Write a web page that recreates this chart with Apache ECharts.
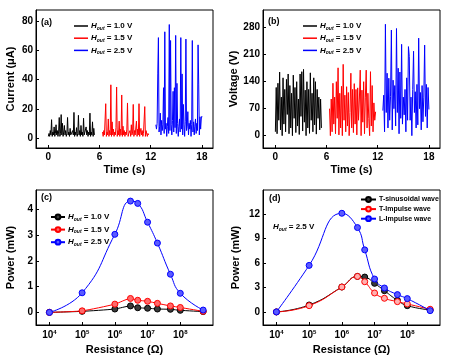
<!DOCTYPE html>
<html><head><meta charset="utf-8">
<script src="https://cdn.jsdelivr.net/npm/echarts@6/dist/echarts.min.js"></script>
<style>html,body{margin:0;padding:0;background:#fff}#c{width:454px;height:361px}</style>
</head><body><div id="c"></div>
<script>
// ---------- Panel (a): current vs time ----------
const timeTicks = [0, 6, 12, 18];
const currentTicks = [0, 20, 40, 60, 80];
const aStart = [0, 6.35, 12.6];
const aStep = 0.075;
const aCurrent10 = [1,3,1,5,2,12.5,1,4,2,7.5,1,3,9,2,5,1,4,14,1,3,16,2,10,1,4,8.5,2,5,1,3,14,2,4,1,6.5,2,3,1,5,2,17.5,1,4,2,7,1,3,15.5,2,5,1,8.5,2,4,1,13.5,2,3,1,7.5,2,5,1,4,2,17,1,4,2,11,1,6.5,2];
const aCurrent15 = [4,1,5,2,3,23.5,1,4,2,13,1,5,2,36.5,1,11,2,6,1,4,2,7,35,1,5,2,11.5,1,6,2,29.5,1,8,2,5,1,4,2,6,24,1,3,2,5,1,9,2,4,23,1,5,2,3,11.5,1,6,2,23.5,1,4,6.5,2,5,1,3,2,21.5,1,5,4.5,1,3,2];
const aCurrent25 = [9,6,10,44,69,4,8,17,2,12,5,9,34.5,3,73,6,10,1,8,14,3,78,5,67,9,2,12,32,4,34.5,7,70.5,3,37.5,10,1,8,13,4,69,6,44,2,23,9,1,11,68,5,8,18,2,10,6,12,1,9,67,4,11,2,8,13,3,10,5,64,37,2,14.5,6,13,15];

// ---------- Panel (b): voltage vs time ----------
const voltageTicks = [0, 70, 140, 210, 280];
const bStart = [0, 6.35, 12.6];
const bStep = 0.1;
const bVoltage10 = [10,125,5,136,40,165,15,100,0,150,30,120,10,146,55,160,5,130,20,110,0,157,45,125,8,140,25,95,3,160,50,166,12,172,35,118,0,140,20,120,6,163,40,110,10,150,28,140,4,120,45,100,15,95,20];
const bVoltage15 = [70,0,95,10,136,30,100,5,140,45,176,2,110,20,128,0,185,40,105,10,127,25,112,0,60,162,20,120,8,135,30,120,2,124,40,95,170,0,118,35,140,5,100,170,20,110,45,0,166,25,130,10,85,40,62];
const bVoltage25 = [65,105,10,289,60,162,20,149,40,102,274,15,144,70,130,25,278,60,175,5,165,45,237,30,100,54,120,10,150,40,231,205,40,100,0,120,219,60,114,20,133,28,253,70,112,15,130,36,100,235,50,133,20,125,68];

// ---------- Panels (c), (d): power vs resistance ----------
const resistance = [1e4, 1e5, 1e6, 3e6, 5e6, 1e7, 2e7, 5e7, 1e8, 5e8];
const resTicks = [1e4, 1e5, 1e6, 1e7, 1e8];
const powerTicksC = [0, 1, 2, 3, 4];
const powerTicksD = [0, 3, 6, 9, 12];
const cPower10 = [0, 0.04, 0.13, 0.25, 0.18, 0.16, 0.13, 0.12, 0.08, 0.03];
const cPower15 = [0, 0.06, 0.32, 0.54, 0.47, 0.43, 0.35, 0.25, 0.19, 0.04];
const cPower25 = [0, 0.76, 3.03, 4.32, 4.23, 3.50, 2.69, 1.48, 0.74, 0.09];
const dSinusoidal = [0, 0.85, 3.05, 4.35, 4.27, 3.50, 2.60, 1.42, 0.77, 0.24];
const dTImpulse = [0, 0.77, 3.05, 4.35, 3.70, 2.32, 1.67, 1.26, 0.98, 0.33];
const dLImpulse = [0, 5.70, 12.08, 10.33, 7.60, 4.03, 2.93, 2.12, 1.63, 0.16];

const hLabels = ['1.0 V', '1.5 V', '2.5 V'];
const dNames = ['T-sinusoidal wave', 'T-Impulse wave', 'L-Impulse wave'];
const colors = ['#000000', '#ff0000', '#0000ff'];
const markerFill = ['#3a3a3a', '#ff6a6a', '#5a5aff'];

// ---------- helpers ----------
const FONT = 'Arial, "Liberation Sans", sans-serif';
function timeSeries(start, step, values) {
  return values.map((v, i) => [start + i * step, v]);
}
function pairs(xs, ys) { return xs.map((x, i) => [x, ys[i]]); }

const legendRich = {
  i: {fontStyle: 'italic', fontWeight: 'bold', fontSize: 8, fontFamily: FONT, color: '#000'},
  s: {fontStyle: 'italic', fontWeight: 'bold', fontSize: 5, fontFamily: FONT, color: '#000', verticalAlign: 'bottom', padding: [5, 0, 0, 0]},
  t: {fontWeight: 'bold', fontSize: 8, fontFamily: FONT, color: '#000'}
};
const supRich = {
  b: {fontWeight: 'bold', fontSize: 10, fontFamily: FONT, color: '#000'},
  p: {fontWeight: 'bold', fontSize: 6, fontFamily: FONT, color: '#000', verticalAlign: 'top', padding: [0, 0, 6, 0]}
};

const grids = [
  {left: 36, top: 10, width: 177, height: 138},
  {left: 263, top: 10, width: 177, height: 138},
  {left: 36, top: 190, width: 177, height: 135},
  {left: 263, top: 190, width: 177, height: 135}
].map(g => Object.assign({show: true, borderColor: '#000', borderWidth: 1, backgroundColor: 'transparent'}, g));

function valueXAxis(gi, min, max, ticks, name) {
  return {
    gridIndex: gi, type: 'value', min: min, max: max,
    name: name, nameLocation: 'middle', nameGap: 16,
    nameTextStyle: {fontWeight: 'bold', fontSize: 11, fontFamily: FONT, color: '#000'},
    axisLine: {show: true, onZero: false, lineStyle: {color: '#000', width: 1}},
    axisTick: {show: true, inside: true, length: 3, customValues: ticks, lineStyle: {color: '#000'}},
    axisLabel: {customValues: ticks, margin: 4, fontWeight: 'bold', fontSize: 10, fontFamily: FONT, color: '#000'},
    splitLine: {show: false}
  };
}
function logXAxis(gi) {
  return {
    gridIndex: gi, type: 'log', logBase: 10, min: 3890, max: 1e9,
    name: 'Resistance (Ω)', nameLocation: 'middle', nameGap: 19,
    nameTextStyle: {fontWeight: 'bold', fontSize: 11, fontFamily: FONT, color: '#000'},
    axisLine: {show: true, onZero: false, lineStyle: {color: '#000', width: 1}},
    axisTick: {show: true, inside: true, length: 3, customValues: resTicks, lineStyle: {color: '#000'}},
    axisLabel: {
      customValues: resTicks, margin: 4,
      formatter: v => '{b|10}{p|' + Math.round(Math.log10(v)) + '}',
      rich: supRich
    },
    splitLine: {show: false}
  };
}
function yAxis(gi, min, max, ticks, name, gap) {
  return {
    gridIndex: gi, type: 'value', min: min, max: max,
    name: name, nameLocation: 'middle', nameGap: gap,
    nameTextStyle: {fontWeight: 'bold', fontSize: 11, fontFamily: FONT, color: '#000'},
    axisLine: {show: true, onZero: false, lineStyle: {color: '#000', width: 1}},
    axisTick: {show: true, inside: true, length: 3, customValues: ticks, lineStyle: {color: '#000'}},
    axisLabel: {customValues: ticks, margin: 3, fontWeight: 'bold', fontSize: 10, fontFamily: FONT, color: '#000'},
    splitLine: {show: false}
  };
}

const series = [];
const aVals = [aCurrent10, aCurrent15, aCurrent25];
const bVals = [bVoltage10, bVoltage15, bVoltage25];
const cVals = [cPower10, cPower15, cPower25];
const dVals = [dSinusoidal, dTImpulse, dLImpulse];
for (let k = 0; k < 3; k++) {
  series.push({name: 'a' + k, type: 'line', xAxisIndex: 0, yAxisIndex: 0, symbol: 'none',
    data: timeSeries(aStart[k], aStep, aVals[k]), lineStyle: {color: colors[k], width: 1}, itemStyle: {color: colors[k]}, animation: false});
  series.push({name: 'b' + k, type: 'line', xAxisIndex: 1, yAxisIndex: 1, symbol: 'none',
    data: timeSeries(bStart[k], bStep, bVals[k]), lineStyle: {color: colors[k], width: 1}, itemStyle: {color: colors[k]}, animation: false});
}
for (let k = 0; k < 3; k++) {
  series.push({name: 'c' + k, type: 'line', xAxisIndex: 2, yAxisIndex: 2, symbol: 'circle', symbolSize: 6,
    smooth: k === 2 ? 0.5 : 0.2, z: 2 + k,
    data: pairs(resistance, cVals[k]), lineStyle: {color: colors[k], width: 1},
    itemStyle: {color: markerFill[k], borderColor: colors[k], borderWidth: 1}, animation: false});
}
for (let k = 0; k < 3; k++) {
  series.push({name: 'd' + k, type: 'line', xAxisIndex: 3, yAxisIndex: 3, symbol: 'circle', symbolSize: 6,
    smooth: 0.5, z: 2 + k,
    data: pairs(resistance, dVals[k]), lineStyle: {color: colors[k], width: 1},
    itemStyle: {color: k === 1 ? '#ffb0b0' : markerFill[k], borderColor: colors[k], borderWidth: 1}, animation: false});
}

function hLegendLine(prefix, left, top, gap) {
  return {
    left: left, top: top, orient: 'vertical', icon: 'rect', itemWidth: 14, itemHeight: 1.5, itemGap: gap,
    data: [0, 1, 2].map(k => prefix + k), selectedMode: false,
    formatter: name => '{i|H}{s|out}{t| = ' + hLabels[+name.slice(1)] + '}',
    textStyle: {rich: legendRich, padding: [0, 0, 0, -2]}
  };
}
function hLegendMarker(prefix, left, top, gap) {
  return {
    left: left, top: top, orient: 'vertical', itemWidth: 14, itemHeight: 6, itemGap: gap,
    data: [0, 1, 2].map(k => prefix + k), selectedMode: false,
    formatter: name => '{i|H}{s|out}{t| = ' + hLabels[+name.slice(1)] + '}',
    textStyle: {rich: legendRich, padding: [0, 0, 0, -2]}
  };
}

const option = {
  animation: false,
  backgroundColor: '#fff',
  grid: grids,
  xAxis: [
    valueXAxis(0, -1.45, 19.3, timeTicks, 'Time (s)'),
    valueXAxis(1, -1.45, 19.3, timeTicks, 'Time (s)'),
    logXAxis(2),
    logXAxis(3)
  ],
  yAxis: [
    yAxis(0, -7, 88, currentTicks, 'Current (μA)', 20),
    yAxis(1, -32, 326, voltageTicks, 'Voltage (V)', 22),
    yAxis(2, -0.49, 4.75, powerTicksC, 'Power (mW)', 20),
    yAxis(3, -1.6, 14.93, powerTicksD, 'Power (mW)', 22)
  ],
  legend: [
    hLegendLine('a', 69, 17, 3.2),
    hLegendLine('b', 298, 17, 3.2),
    hLegendMarker('c', 45, 208, 3.6),
    {
      left: 355, top: 191, orient: 'vertical', itemWidth: 15, itemHeight: 6, itemGap: 2.6,
      data: ['d0', 'd1', 'd2'], selectedMode: false,
      formatter: name => dNames[+name.slice(1)],
      textStyle: {fontWeight: 'bold', fontSize: 7, fontFamily: FONT, color: '#000', padding: [0, 0, 0, -2]}
    }
  ],
  graphic: [
    {type: 'text', left: 41, top: 18, style: {text: '(a)', font: 'bold 9px ' + FONT, fill: '#000'}},
    {type: 'text', left: 268, top: 17, style: {text: '(b)', font: 'bold 9px ' + FONT, fill: '#000'}},
    {type: 'text', left: 41, top: 193, style: {text: '(c)', font: 'bold 9px ' + FONT, fill: '#000'}},
    {type: 'text', left: 269, top: 194, style: {text: '(d)', font: 'bold 9px ' + FONT, fill: '#000'}},
    {type: 'text', left: 273, top: 223, style: {text: '{i|H}{s|out}{t| = 2.5 V}', rich: legendRich}}
  ],
  series: series
};
const chart = echarts.init(document.getElementById('c'), null, {renderer: 'canvas'});
chart.setOption(option);
</script>
</body></html>
